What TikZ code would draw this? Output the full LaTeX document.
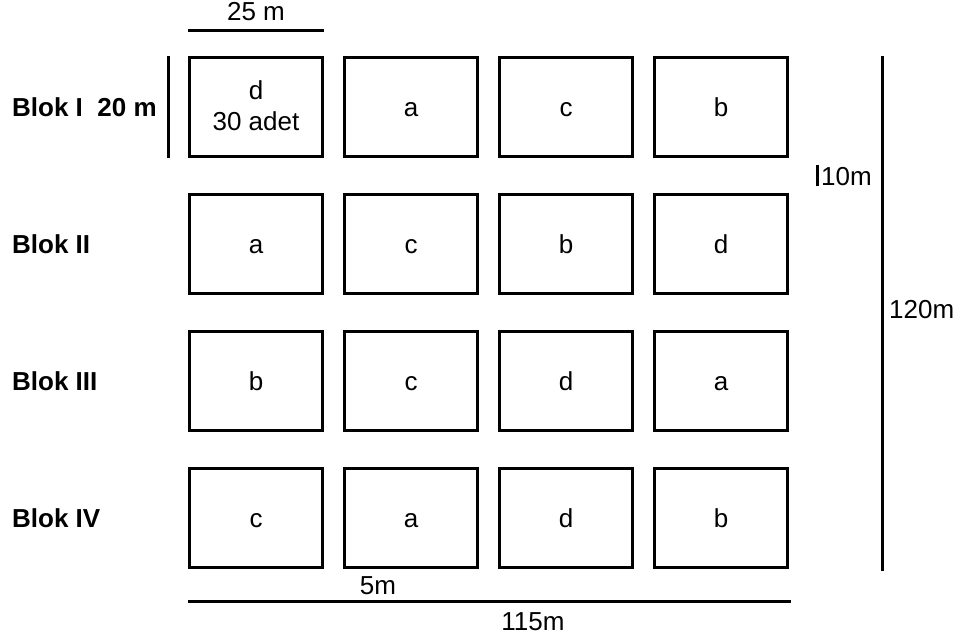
\documentclass[tikz,border=0pt]{standalone}
\usepackage{fontspec}
\setmainfont{Liberation Sans}
\usetikzlibrary{positioning}
\tikzset{
  parsel/.style={draw,line width=3pt,minimum width=133pt,minimum height=99pt,inner sep=0pt,align=center,
    font=\fontsize{26}{31}\selectfont,execute at begin node={\rule[-3.6pt]{0pt}{25.6pt}}},
  blok/.style={anchor=west,inner sep=0pt,font=\fontsize{26}{31}\selectfont\bfseries},
  dim/.style={line width=3pt},
  dlab/.style={inner sep=0pt,font=\fontsize{26}{31}\selectfont}
}
\begin{document}
\begin{tikzpicture}[x=1pt,y=-1pt]
  \useasboundingbox (0,0) rectangle (960,636);
  % plots, one row per block
  \foreach \r/\a/\b/\c/\d in {1/{d\\30 adet}/a/c/b,2/a/c/b/d,3/b/c/d/a,4/c/a/d/b}{
    \node[parsel] (P\r1) at (256,107+137*\r-137) {\a};
    \node[parsel] (P\r2) at (411,107+137*\r-137) {\b};
    \node[parsel] (P\r3) at (566,107+137*\r-137) {\c};
    \node[parsel] (P\r4) at (721,107+137*\r-137) {\d};}
  \node[blok] (B1) at (12,107) {Blok I\ \ 20 m};
  \node[blok] (B2) at (12,244) {Blok II};
  \node[blok] (B3) at (12,381) {Blok III};
  \node[blok] (B4) at (12,518) {Blok IV};
  % dimensions
  \coordinate (w1) at (188,31); \coordinate (w2) at (324,31);
  \draw[dim] (w1)--(w2);
  \node[dlab] (lw) at (256,12) {25 m};
  \coordinate (h1) at (168,56); \coordinate (h2) at (168,158);
  \draw[dim] (h1)--(h2);
  \coordinate (g1) at (817,165); \coordinate (g2) at (817,186);
  \draw[dim] (g1)--(g2);
  \node[dlab,anchor=west] (lg) at (821,177) {10m};
  \coordinate (t1) at (882,56); \coordinate (t2) at (882,571);
  \draw[dim] (t1)--(t2);
  \node[dlab,anchor=west] (lt) at (889,310) {120m};
  \coordinate (b1) at (188,601); \coordinate (b2) at (791,601);
  \draw[dim] (b1)--(b2);
  \node[dlab] (ls) at (378,586) {5m};
  \node[dlab] (lb) at (533,622) {115m};
\end{tikzpicture}
\end{document}
